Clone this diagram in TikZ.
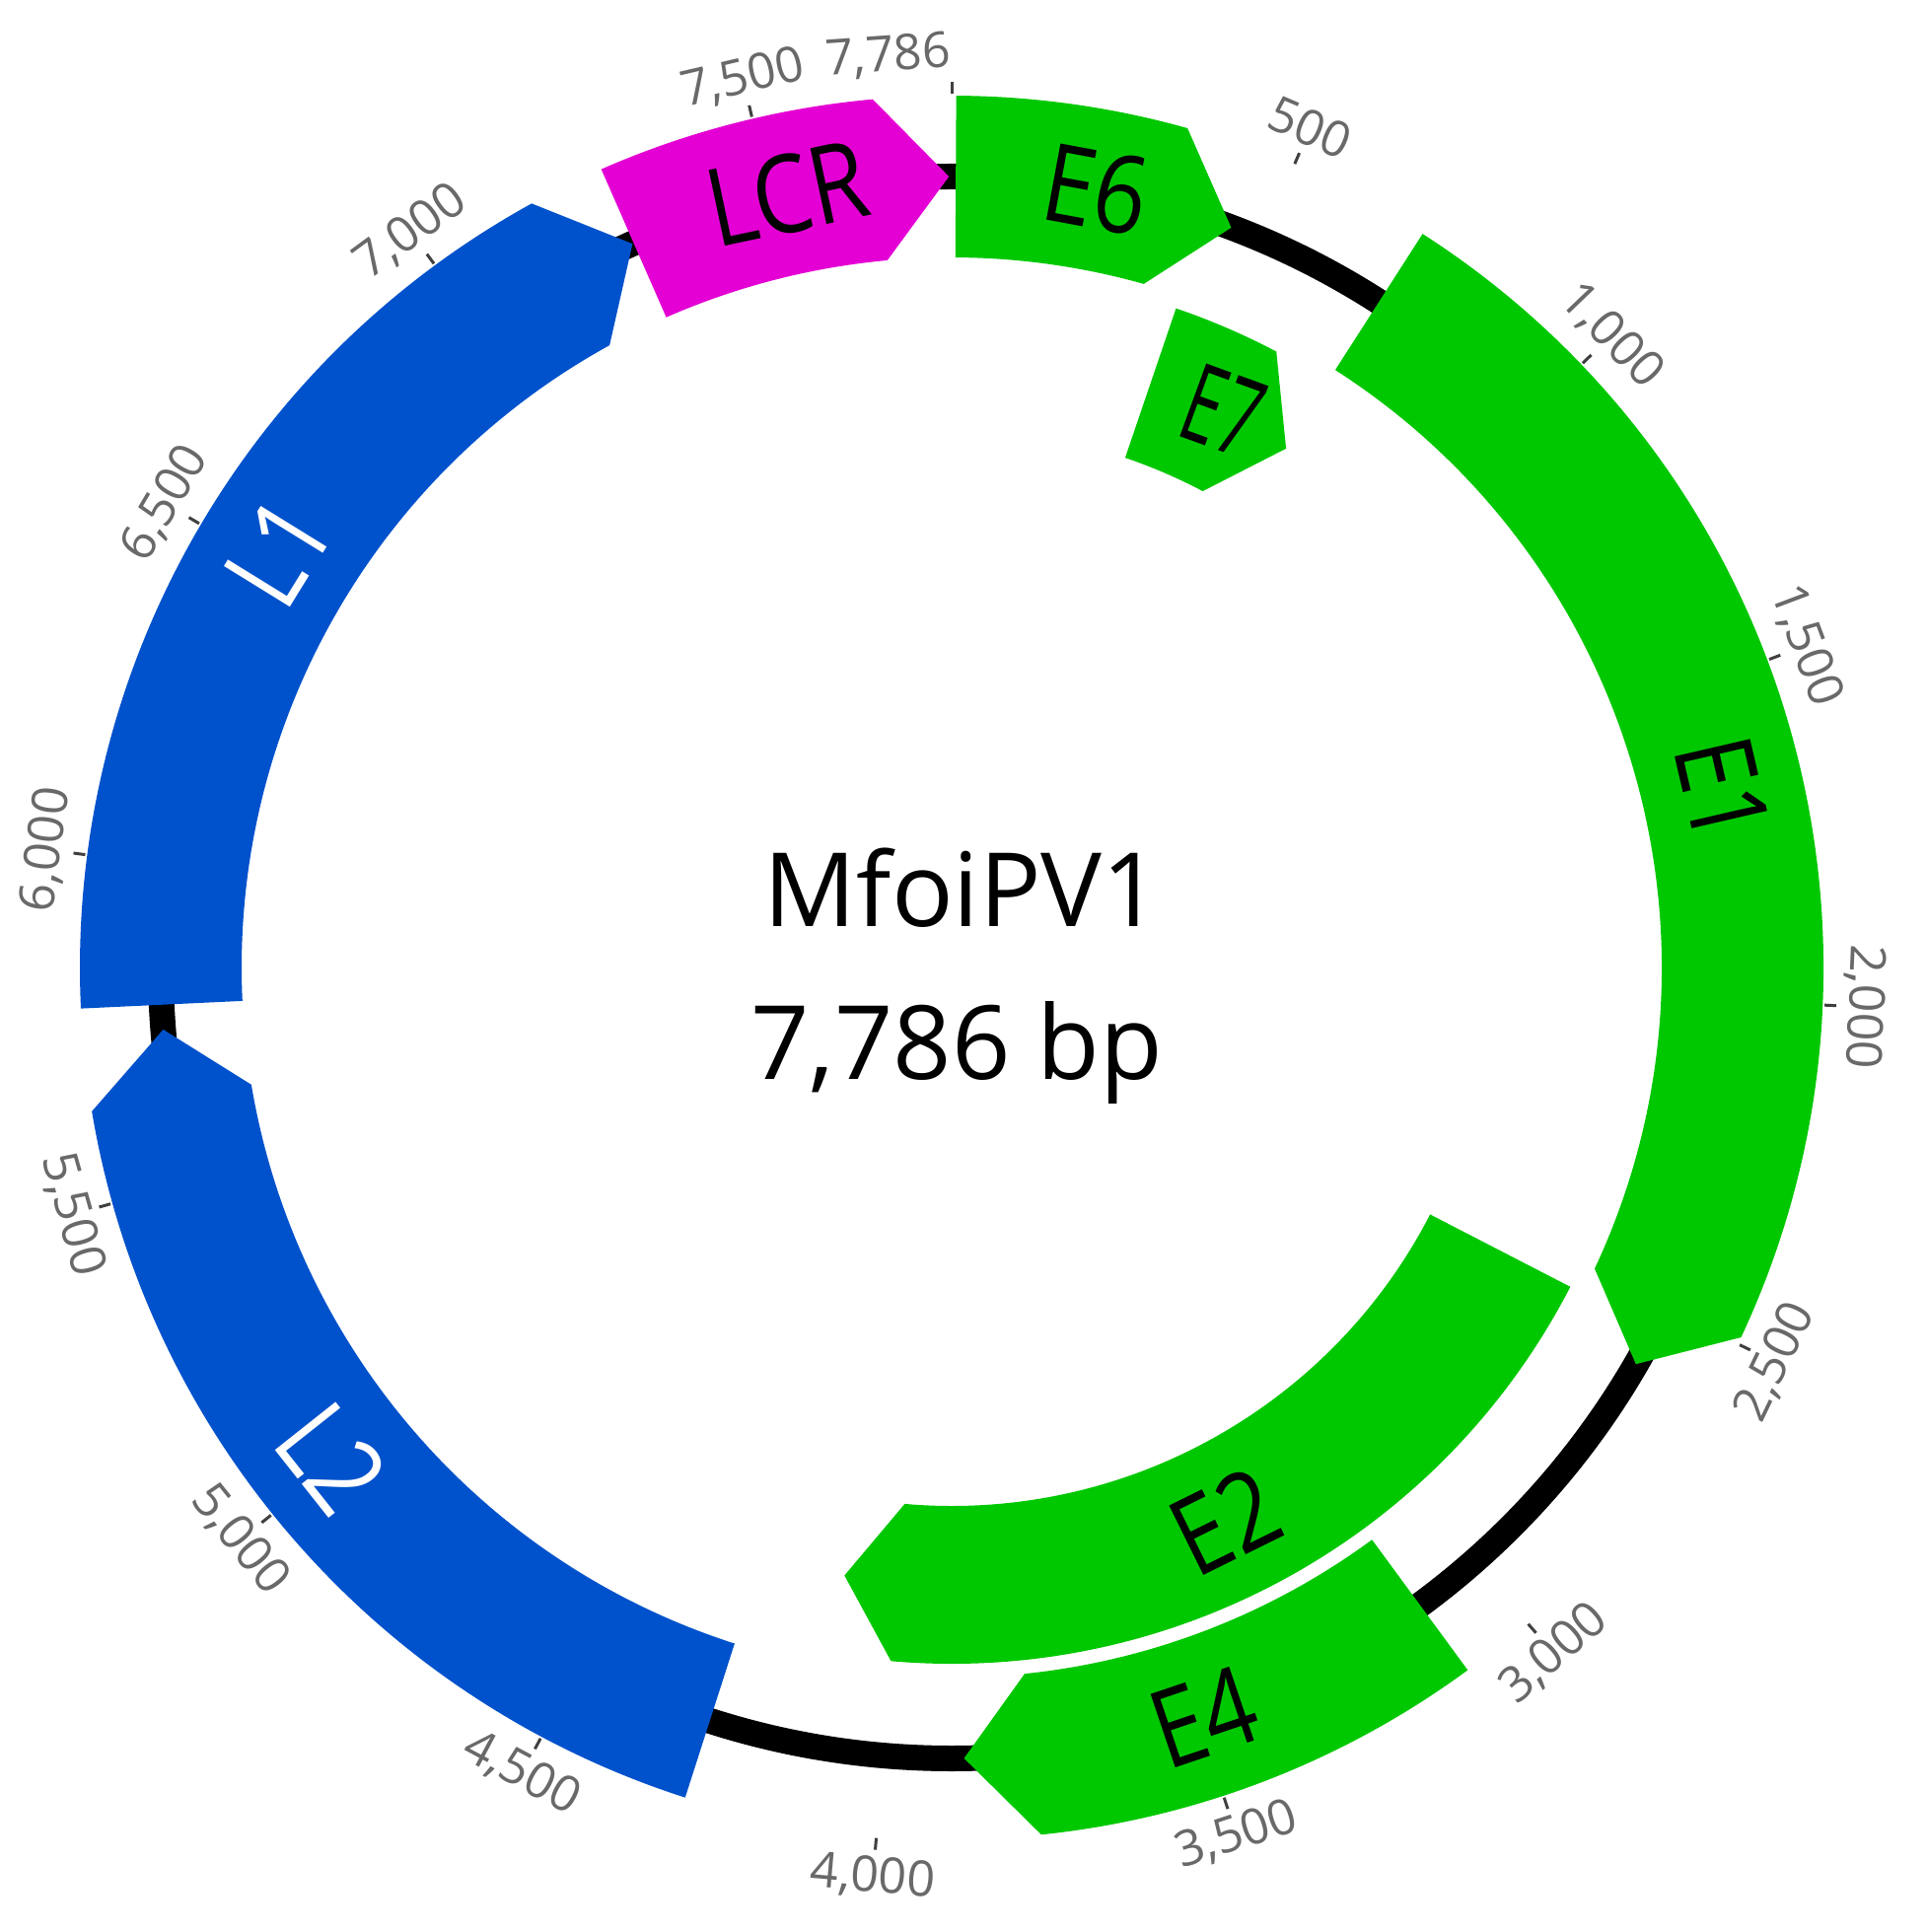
\documentclass[tikz,border=0pt]{standalone}
\usepackage{fontspec}
\setmainfont{Open Sans}
\definecolor{gGreen}{RGB}{0,200,0}
\definecolor{gBlue}{RGB}{0,82,204}
\definecolor{gMag}{RGB}{228,0,212}
\definecolor{tickgray}{RGB}{105,105,105}
\newcommand\genearrow[5]{% #1 start, #2 end (compass deg), #3 inner r, #4 outer r, #5 colour
  \pgfmathsetmacro\ga{90-#1}%
  \pgfmathsetmacro\gb{90-#2+5}%
  \pgfmathsetmacro\gc{90-#2}%
  \pgfmathsetmacro\gm{(#3+#4)/2}%
  \fill[#5] (\ga:#4pt) arc[start angle=\ga, end angle=\gb, radius=#4pt]
    -- (\gc:\gm pt) -- (\gb:#3pt) arc[start angle=\gb, end angle=\ga, radius=#3pt] -- cycle;
}
\newcommand\ticklab[4]{% #1 compass, #2 rotation, #3 text, #4 name
  \draw[tickmark] ({90-#1}:886pt) -- ({90-#1}:898pt);
  \node[ticktext, rotate=#2] (#4) at ({90-#1}:926pt) {#3};
}
\tikzset{
  backbone/.style={line width=26pt, black},
  tickmark/.style={line width=3pt, black!75},
  ticktext/.style={text=tickgray, font=\fontsize{50}{58}\selectfont, inner sep=0pt},
  genelabel/.style={font=\fontsize{110}{120}\selectfont, inner sep=0pt, text=black},
  centerlabel/.style={font=\fontsize{104}{120}\selectfont, inner sep=0pt, anchor=base},
}
\begin{document}
\begin{tikzpicture}
\useasboundingbox (-965pt,-978pt) rectangle (987pt,981pt);
\fill[white] (-965pt,-978pt) rectangle (987pt,981pt);
% backbone
\draw[backbone] (0,0) circle[radius=802pt];
% genes (outer track 720-884, inner track 546-706)
\genearrow{336.3}{359.8}{720}{884}{gMag}
\genearrow{0.3}{20.7}{720}{884}{gGreen}
\genearrow{18.8}{32.8}{546}{706}{gGreen}
\genearrow{32.7}{120.1}{720}{884}{gGreen}
\genearrow{117.3}{190.0}{546}{706}{gGreen}
\genearrow{143.7}{179.1}{720}{884}{gGreen}
\genearrow{197.8}{265.5}{720}{884}{gBlue}
\genearrow{267.3}{336.2}{720}{884}{gBlue}
% gene labels
\node[genelabel, rotate=12, xscale=0.85] (lLCR) at ({90-348}:802pt) {LCR};
\node[genelabel, rotate=-10.5, xscale=0.85] (lE6) at ({90-10.5}:802pt) {E6};
\node[genelabel, rotate=-20, xscale=0.62] (lE7) at ({90-26}:628pt) {E7};
\node[genelabel, rotate=-77, xscale=0.85] (lE1) at ({90-77}:802pt) {E1};
\node[genelabel, rotate=26.3, xscale=0.85] (lE2) at ({90-153.7}:626pt) {E2};
\node[genelabel, rotate=18.6, xscale=0.85] (lE4) at ({90-161.4}:802pt) {E4};
\node[genelabel, rotate=-51.6, xscale=0.85, text=white] (lL2) at ({90-231.6}:802pt) {L2};
\node[genelabel, rotate=58.3, xscale=0.85, text=white] (lL1) at ({90-301.7}:802pt) {L1};
% ticks and labels
\ticklab{23.12}{-23.12}{500}{t500}
\ticklab{46.24}{-46.24}{1,000}{t1000}
\ticklab{69.35}{-69.35}{1,500}{t1500}
\ticklab{92.47}{-92.47}{2,000}{t2000}
\ticklab{115.59}{64.41}{2,500}{t2500}
\ticklab{138.71}{41.29}{3,000}{t3000}
\ticklab{161.83}{18.17}{3,500}{t3500}
\ticklab{184.95}{-4.95}{4,000}{t4000}
\ticklab{208.07}{-28.07}{4,500}{t4500}
\ticklab{231.18}{-51.18}{5,000}{t5000}
\ticklab{254.30}{-74.30}{5,500}{t5500}
\ticklab{277.42}{82.58}{6,000}{t6000}
\ticklab{300.54}{59.46}{6,500}{t6500}
\ticklab{323.66}{36.34}{7,000}{t7000}
\ticklab{346.78}{13.22}{7,500}{t7500}
\draw[tickmark] (90:886pt) -- (90:898pt);
\node[ticktext, rotate=4] (t7786) at ({90-356}:926pt) {7,786};
% centre
\node[centerlabel] (title) at (11pt,41pt) {MfoiPV1};
\node[centerlabel] (size) at (5pt,-113pt) {7,786 bp};
\end{tikzpicture}
\end{document}
